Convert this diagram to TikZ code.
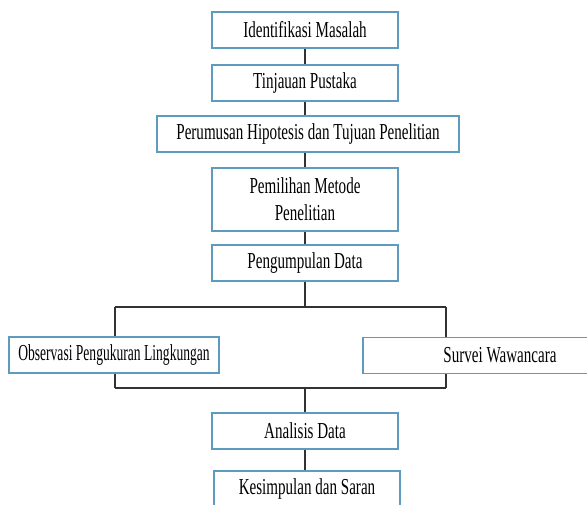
\documentclass[tikz,border=0pt]{standalone}
\usepackage{fontspec}
\setmainfont{Liberation Serif}[FakeStretch=0.66]
\usetikzlibrary{positioning}
\definecolor{boxblue}{RGB}{95,155,190}
\definecolor{linegray}{RGB}{50,50,50}

\begin{document}
\begin{tikzpicture}[x=0.02cm,y=-0.02cm,
  box/.style={draw=boxblue,line width=0.8pt,fill=white,minimum height=0.72cm,
    minimum width=3.72cm,align=center,font=\fontsize{13}{15.5}\selectfont,inner sep=1pt},
  link/.style={draw=linegray,line width=0.85pt},
  bar/.style={draw=linegray,line width=1.4pt}]
\clip (0,0) rectangle (587,504);

\node[box] (b1) at (305,30) {Identifikasi Masalah};
\node[box] (b2) at (305,83) {Tinjauan Pustaka};
\node[box,minimum width=6.04cm] (b3) at (308,134) {Perumusan Hipotesis dan Tujuan Penelitian};
\node[box,minimum height=1.26cm] (b4) at (305,199.5) {Pemilihan Metode\\Penelitian};
\node[box] (b5) at (305,263) {Pengumpulan Data};
\node[box,minimum width=4.2cm] (b6) at (114,355) {\scalebox{0.9}[1]{Observasi Pengukuran Lingkungan}};
\node[box,minimum width=5.48cm] (b7) at (500,355.5) {Survei Wawancara};
\node[box] (b8) at (305,431) {Analisis Data};
\node[box] (b9) at (307,489) {Kesimpulan dan Saran};

% split and join bars
\coordinate (sl) at (115,307);
\coordinate (sr) at (446,307);
\coordinate (jl) at (115,388);
\coordinate (jr) at (446,388);

\foreach \a/\b in {b1/b2,b2/b3,b3/b4,b4/b5} {
\draw[link] (\a.south-|b1) -- (\b.north-|b1);
}
\draw[link] (b5.south) -- (b5.south|-sl);
\draw[bar] (sl) -- (sr);
\draw[link] (sl) -- (sl|-b6.north);
\draw[link] (sr) -- (sr|-b7.north);
\draw[link] (sl|-b6.south) -- (jl);
\draw[link] (sr|-b7.south) -- (jr);
\draw[bar] (jl) -- (jr);
\draw[link] (b8.north|-jl) -- (b8.north);
\draw[link] (b8.south) -- (b8.south|-b9.north);
\end{tikzpicture}
\end{document}
